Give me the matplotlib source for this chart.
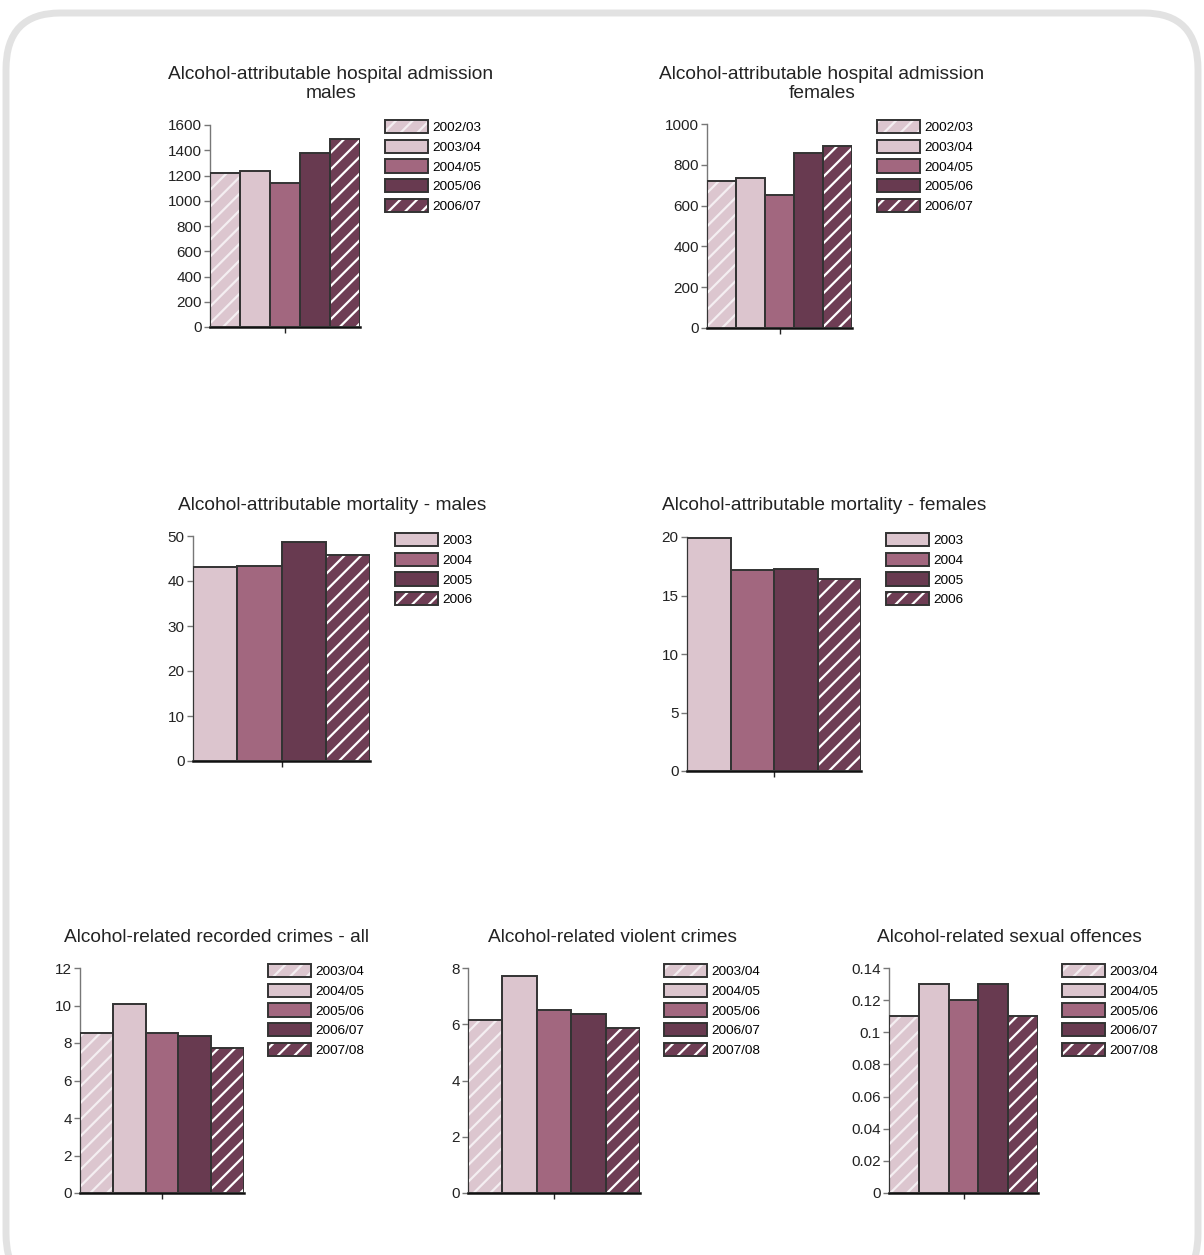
import matplotlib.pyplot as plt
from matplotlib.patches import Patch, FancyBboxPatch
from matplotlib.legend_handler import HandlerTuple

plt.rcParams['font.family'] = ['Liberation Sans', 'DejaVu Sans']
plt.rcParams['hatch.linewidth'] = 1.6

# data

years_5a = ['2002/03', '2003/04', '2004/05', '2005/06', '2006/07']
years_4 = ['2003', '2004', '2005', '2006']
years_5b = ['2003/04', '2004/05', '2005/06', '2006/07', '2007/08']

hosp_males = [1220, 1235, 1140, 1375, 1490]
hosp_females = [722, 734, 652, 859, 892]
mort_males = [43.2, 43.3, 48.6, 45.8]
mort_females = [19.9, 17.15, 17.3, 16.4]
crimes_all = [8.56, 10.07, 8.56, 8.36, 7.75]
crimes_violent = [6.16, 7.73, 6.52, 6.37, 5.87]
crimes_sexual = [0.11, 0.13, 0.12, 0.13, 0.11]

# styles: (face colour, hatched?)
light_h = ('#dcc6cf', True)
light = ('#dcc5ce', False)
mauve = ('#a2677f', False)
dark = ('#683a50', False)
dark_h = ('#6e3d54', True)

style_5 = [light_h, light, mauve, dark, dark_h]
style_4 = [light, mauve, dark, dark_h]

W, H = 1204, 1255
fig = plt.figure(figsize=(W / 100, H / 100), dpi=100)
fig.patch.set_facecolor('white')

# rounded frame around the whole page
frame = FancyBboxPatch((6 / W, 1 - 1290 / H), 1192 / W, 1277 / H,
                       boxstyle='round,pad=0,rounding_size=0.045',
                       transform=fig.transFigure, facecolor='none',
                       edgecolor='#e2e2e2', linewidth=5, zorder=0)
fig.patches.append(frame)


def px_axes(left, top, right, bottom):
    return fig.add_axes([left / W, 1 - bottom / H, (right - left) / W, (bottom - top) / H])


def draw_panel(box, values, labels, styles, ymax, step, title, title_xy, leg_xy,
               fmt=None):
    ax = px_axes(*box)
    n = len(values)
    handles = []
    for i, (v, (col, hatched)) in enumerate(zip(values, styles)):
        ax.bar(i, v, width=1, align='edge', color=col, linewidth=0, zorder=2)
        parts = [Patch(facecolor=col, edgecolor='none')]
        if hatched:
            hc = 'white' if col != light_h[0] else '#f4eef1'
            ax.bar(i, v, width=1, align='edge', facecolor='none', edgecolor=hc,
                   hatch='//', linewidth=0, zorder=3)
            parts.append(Patch(facecolor='none', edgecolor=hc, hatch='//', linewidth=0))
        ax.bar(i, v, width=1, align='edge', facecolor='none', edgecolor='#333333',
               linewidth=1.4, zorder=4)
        parts.append(Patch(facecolor='none', edgecolor='#333333', linewidth=1.4))
        handles.append(tuple(parts))

    ax.set_xlim(0, n)
    ax.set_ylim(0, ymax)
    yt = [round(k * step, 6) for k in range(int(round(ymax / step)) + 1)]
    ax.set_yticks(yt)
    if fmt:
        ax.set_yticklabels([fmt(t) for t in yt])
    ax.set_xticks([n / 2])
    ax.set_xticklabels([''])
    for s in ['top', 'right']:
        ax.spines[s].set_visible(False)
    ax.spines['left'].set_color('#777777')
    ax.spines['left'].set_linewidth(1.0)
    ax.spines['bottom'].set_color('#111111')
    ax.spines['bottom'].set_linewidth(1.8)
    ax.tick_params(axis='y', length=4, width=1, color='#777777', pad=2,
                   labelsize=11, labelcolor='#222222')
    ax.tick_params(axis='x', length=4, width=1, color='#222222')
    ax.set_facecolor('none')

    fig.text(title_xy[0] / W, 1 - title_xy[1] / H, title, ha='center', va='center',
             fontsize=13.8, color='#222222', linespacing=1.15)

    ax.legend(handles, labels, handler_map={tuple: HandlerTuple(ndivide=1, pad=0)},
              loc='upper left', bbox_to_anchor=(leg_xy[0] / W, 1 - leg_xy[1] / H),
              bbox_transform=fig.transFigure, frameon=False, borderpad=0,
              borderaxespad=0, handlelength=3.2, handleheight=1.15,
              handletextpad=0.3, labelspacing=0.4, fontsize=9.7)
    return ax


def num_fmt(t):
    return ('%g' % t)


draw_panel((210, 125, 360, 327), hosp_males, years_5a, style_5, 1600, 200,
           'Alcohol-attributable hospital admission\nmales', (331, 84), (385, 120))
draw_panel((707, 124, 852, 328), hosp_females, years_5a, style_5, 1000, 200,
           'Alcohol-attributable hospital admission\nfemales', (822, 84), (877, 120))
draw_panel((193, 536, 370, 761), mort_males, years_4, style_4, 50, 10,
           'Alcohol-attributable mortality - males', (332, 505), (395, 533))
draw_panel((687, 537, 861, 771), mort_females, years_4, style_4, 20, 5,
           'Alcohol-attributable mortality - females', (824, 505), (886, 533))
draw_panel((80, 968, 244, 1193), crimes_all, years_5b, style_5, 12, 2,
           'Alcohol-related recorded crimes - all', (217, 937), (268, 964))
draw_panel((468, 968, 640, 1193), crimes_violent, years_5b, style_5, 8, 2,
           'Alcohol-related violent crimes', (612, 937), (664, 964))
draw_panel((889, 968, 1038, 1193), crimes_sexual, years_5b, style_5, 0.14, 0.02,
           'Alcohol-related sexual offences', (1009, 937), (1062, 964), fmt=num_fmt)

plt.savefig('out.png', dpi=100)
